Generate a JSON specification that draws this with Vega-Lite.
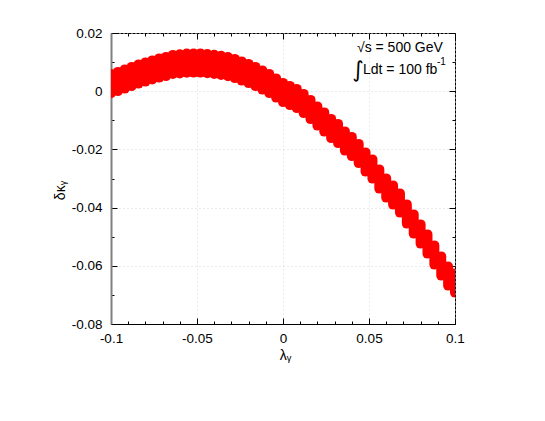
{
  "$schema": "https://vega.github.io/schema/vega-lite/v6.json",
  "width": 344,
  "height": 291,
  "autosize": "none",
  "padding": {"left": 111, "top": 33, "right": 90, "bottom": 97},
  "background": "white",
  "config": {
    "view": {"stroke": "black", "strokeWidth": 1},
    "font": "Liberation Sans",
    "axis": {"labelFont": "Liberation Sans", "titleFont": "Liberation Sans", "labelColor": "black", "titleColor": "black", "tickColor": "black", "titleFontWeight": "normal"}
  },
  "datasets": {
    "band": [
      {"lambda": -0.1, "lo": -0.00065, "hi": 0.00595},
      {"lambda": -0.096, "lo": 0.00003, "hi": 0.00663},
      {"lambda": -0.092, "lo": 0.00089, "hi": 0.00749},
      {"lambda": -0.088, "lo": 0.00175, "hi": 0.00835},
      {"lambda": -0.084, "lo": 0.00261, "hi": 0.00921},
      {"lambda": -0.08, "lo": 0.0033, "hi": 0.0099},
      {"lambda": -0.076, "lo": 0.00399, "hi": 0.01059},
      {"lambda": -0.072, "lo": 0.00467, "hi": 0.01127},
      {"lambda": -0.068, "lo": 0.00519, "hi": 0.01179},
      {"lambda": -0.064, "lo": 0.00588, "hi": 0.01248},
      {"lambda": -0.06, "lo": 0.00612, "hi": 0.01272},
      {"lambda": -0.056, "lo": 0.00632, "hi": 0.01292},
      {"lambda": -0.052, "lo": 0.00639, "hi": 0.01299},
      {"lambda": -0.048, "lo": 0.00639, "hi": 0.01299},
      {"lambda": -0.044, "lo": 0.00618, "hi": 0.01278},
      {"lambda": -0.04, "lo": 0.00594, "hi": 0.01254},
      {"lambda": -0.036, "lo": 0.0056, "hi": 0.0122},
      {"lambda": -0.032, "lo": 0.00512, "hi": 0.01172},
      {"lambda": -0.028, "lo": 0.0045, "hi": 0.0111},
      {"lambda": -0.024, "lo": 0.00364, "hi": 0.01024},
      {"lambda": -0.02, "lo": 0.00278, "hi": 0.00938},
      {"lambda": -0.016, "lo": 0.00175, "hi": 0.00835},
      {"lambda": -0.012, "lo": 0.00055, "hi": 0.00715},
      {"lambda": -0.008, "lo": -0.00065, "hi": 0.00595},
      {"lambda": -0.004, "lo": -0.0022, "hi": 0.0044},
      {"lambda": 0, "lo": -0.00375, "hi": 0.00285},
      {"lambda": 0.004, "lo": -0.00478, "hi": 0.00182},
      {"lambda": 0.008, "lo": -0.00581, "hi": 0.00079},
      {"lambda": 0.012, "lo": -0.00753, "hi": -0.00093},
      {"lambda": 0.016, "lo": -0.00959, "hi": -0.00299},
      {"lambda": 0.02, "lo": -0.01182, "hi": -0.00522},
      {"lambda": 0.024, "lo": -0.01388, "hi": -0.00728},
      {"lambda": 0.028, "lo": -0.01612, "hi": -0.00952},
      {"lambda": 0.032, "lo": -0.01784, "hi": -0.01124},
      {"lambda": 0.036, "lo": -0.02041, "hi": -0.01381},
      {"lambda": 0.04, "lo": -0.0223, "hi": -0.0157},
      {"lambda": 0.044, "lo": -0.02471, "hi": -0.01811},
      {"lambda": 0.048, "lo": -0.02763, "hi": -0.02103},
      {"lambda": 0.052, "lo": -0.03004, "hi": -0.02344},
      {"lambda": 0.056, "lo": -0.03347, "hi": -0.02687},
      {"lambda": 0.06, "lo": -0.03656, "hi": -0.02996},
      {"lambda": 0.064, "lo": -0.03897, "hi": -0.03237},
      {"lambda": 0.068, "lo": -0.04172, "hi": -0.03512},
      {"lambda": 0.072, "lo": -0.0455, "hi": -0.0389},
      {"lambda": 0.076, "lo": -0.04894, "hi": -0.04234},
      {"lambda": 0.08, "lo": -0.05237, "hi": -0.04577},
      {"lambda": 0.084, "lo": -0.05581, "hi": -0.04921},
      {"lambda": 0.088, "lo": -0.05959, "hi": -0.05299},
      {"lambda": 0.092, "lo": -0.06337, "hi": -0.05677},
      {"lambda": 0.096, "lo": -0.06681, "hi": -0.06021},
      {"lambda": 0.1, "lo": -0.06921, "hi": -0.06261}
    ]
  },
  "layer": [
    {
      "data": {"name": "band"},
      "mark": {"type": "rule", "color": "#ff0000", "strokeWidth": 10, "strokeCap": "round", "clip": true},
      "encoding": {
        "x": {
          "field": "lambda", "type": "quantitative",
          "scale": {"domain": [-0.1, 0.1], "nice": false, "zero": false},
          "axis": {
            "orient": "bottom",
            "values": [-0.1, -0.09, -0.08, -0.07, -0.06, -0.05, -0.04, -0.03, -0.02, -0.01, 0, 0.01, 0.02, 0.03, 0.04, 0.05, 0.06, 0.07, 0.08, 0.09, 0.1],
            "labelExpr": "abs(datum.value*20 - round(datum.value*20)) < 0.001 ? replace(format(datum.value, '~g'), '\u2212', '-') : ''",
            "tickSize": {"condition": {"test": "abs(datum.value*20 - round(datum.value*20)) < 0.001", "value": -6}, "value": -3},
            "grid": true,
            "gridColor": "#d6d6d6",
            "gridDash": [1, 3],
            "gridOpacity": {"condition": {"test": "abs(datum.value*20 - round(datum.value*20)) < 0.001", "value": 1}, "value": 0},
            "domain": true,
            "domainColor": "black",
            "labelFontSize": 13.5,
            "labelPadding": 13,
            "labelFlush": false,
            "labelOverlap": false,
            "title": "λᵧ",
            "titleFontSize": 14,
            "titleX": 174,
            "titleY": 31,
            "titleBaseline": "middle",
            "titleAlign": "center"
          }
        },
        "y": {
          "field": "lo", "type": "quantitative",
          "scale": {"domain": [-0.08, 0.02], "nice": false, "zero": false},
          "axis": {
            "orient": "left",
            "values": [-0.08, -0.07, -0.06, -0.05, -0.04, -0.03, -0.02, -0.01, 0, 0.01, 0.02],
            "labelExpr": "abs(datum.value*50 - round(datum.value*50)) < 0.001 ? replace(format(datum.value, '~g'), '\u2212', '-') : ''",
            "tickSize": {"condition": {"test": "abs(datum.value*50 - round(datum.value*50)) < 0.001", "value": -6}, "value": -3},
            "grid": true,
            "gridColor": "#d6d6d6",
            "gridDash": [1, 3],
            "gridOpacity": {"condition": {"test": "abs(datum.value*50 - round(datum.value*50)) < 0.001", "value": 1}, "value": 0},
            "domain": true,
            "domainColor": "#808080",
            "domainWidth": 2,
            "labelFontSize": 13.5,
            "labelPadding": 15,
            "labelFlush": false,
            "labelOverlap": false,
            "title": "δκᵧ",
            "titleFontSize": 14,
            "titleX": -51,
            "titleY": 157,
            "titleAngle": 270,
            "titleBaseline": "middle",
            "titleAlign": "center"
          }
        },
        "y2": {"field": "hi"}
      }
    },
    {
      "data": {"name": "band"},
      "mark": {"type": "point", "opacity": 0},
      "encoding": {
        "x": {
          "field": "lambda", "type": "quantitative",
          "axis": {
            "orient": "top",
            "values": [-0.1, -0.09, -0.08, -0.07, -0.06, -0.05, -0.04, -0.03, -0.02, -0.01, 0, 0.01, 0.02, 0.03, 0.04, 0.05, 0.06, 0.07, 0.08, 0.09, 0.1],
            "labels": false,
            "tickSize": {"condition": {"test": "abs(datum.value*20 - round(datum.value*20)) < 0.001", "value": -6}, "value": -3},
            "grid": false,
            "domain": false,
            "title": null
          }
        },
        "y": {
          "field": "lo", "type": "quantitative",
          "axis": {
            "orient": "right",
            "values": [-0.08, -0.07, -0.06, -0.05, -0.04, -0.03, -0.02, -0.01, 0, 0.01, 0.02],
            "labels": false,
            "tickSize": {"condition": {"test": "abs(datum.value*50 - round(datum.value*50)) < 0.001", "value": -6}, "value": -3},
            "grid": false,
            "domain": false,
            "title": null
          }
        }
      }
    },
    {
      "data": {"values": [{}]},
      "mark": {"type": "text", "text": "√s = 500 GeV", "align": "left", "baseline": "middle", "fontSize": 14, "font": "Liberation Sans", "color": "black"},
      "encoding": {
        "x": {"datum": 0.043, "type": "quantitative", "axis": null},
        "y": {"datum": 0.01485, "type": "quantitative", "axis": null}
      }
    },
    {
      "data": {"values": [{}]},
      "mark": {"type": "text", "text": "∫", "align": "center", "baseline": "middle", "fontSize": 22, "font": "DejaVu Sans", "color": "black"},
      "encoding": {
        "x": {"datum": 0.0436, "type": "quantitative", "axis": null},
        "y": {"datum": 0.00729, "type": "quantitative", "axis": null}
      }
    },
    {
      "data": {"values": [{}]},
      "mark": {"type": "text", "text": "Ldt = 100 fb", "align": "left", "baseline": "middle", "fontSize": 14, "font": "Liberation Sans", "color": "black"},
      "encoding": {
        "x": {"datum": 0.0465, "type": "quantitative", "axis": null},
        "y": {"datum": 0.00729, "type": "quantitative", "axis": null}
      }
    },
    {
      "data": {"values": [{}]},
      "mark": {"type": "text", "text": "-1", "align": "left", "baseline": "middle", "fontSize": 10, "font": "Liberation Sans", "color": "black"},
      "encoding": {
        "x": {"datum": 0.0895, "type": "quantitative", "axis": null},
        "y": {"datum": 0.01003, "type": "quantitative", "axis": null}
      }
    }
  ],
  "resolve": {"axis": {"x": "independent", "y": "independent"}}
}
